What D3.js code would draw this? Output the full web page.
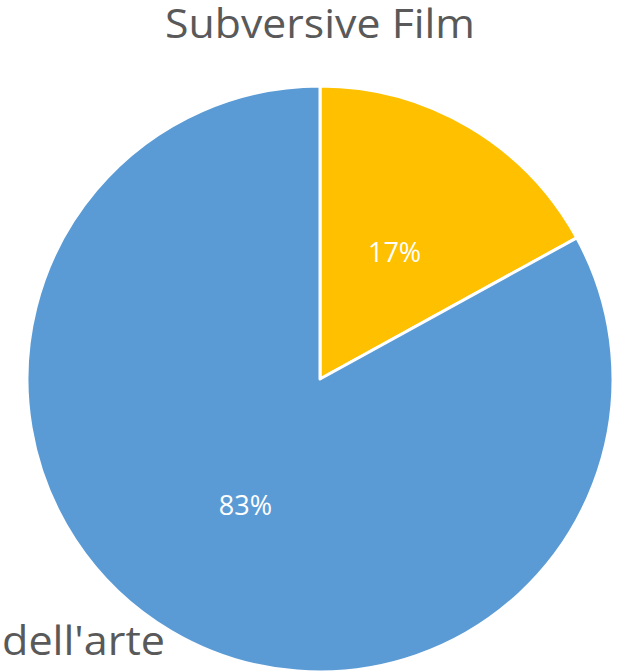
<!DOCTYPE html>
<html>
<head>
<meta charset="utf-8">
<script src="https://cdn.jsdelivr.net/npm/d3@7"></script>
<style>
  html, body { margin: 0; padding: 0; background: #fff; overflow: hidden; }
  svg { display: block; }
</style>
</head>
<body>
<svg id="chart" width="623" height="671"></svg>
<script>
// Series and slices
const title = "Subversive Film";
const categories = ["Other", "dell'arte"];
const values = [17, 83];
const colors = ["#FFC000", "#5B9BD5"];
const legendText = "dell'arte";

const W = 623, H = 671;
const cx = 320, cy = 379, r = 293;
const font = "'Open Sans', 'Noto Sans', sans-serif";

const svg = d3.select("#chart");

const total = d3.sum(values);
const pie = d3.pie().sort(null).value(d => d.value);
const arcs = pie(categories.map((c, i) => ({ name: c, value: values[i], color: colors[i] })));
const arc = d3.arc().innerRadius(0).outerRadius(r);
const labelArc = d3.arc().innerRadius(r * 0.5).outerRadius(r * 0.5);

const g = svg.append("g").attr("transform", `translate(${cx},${cy})`);

g.selectAll("path.slice")
  .data(arcs)
  .join("path")
  .attr("class", "slice")
  .attr("d", arc)
  .attr("fill", d => d.data.color)
  .attr("stroke", "#fff")
  .attr("stroke-width", 3)
  .attr("stroke-linejoin", "round");

g.selectAll("text.pct")
  .data(arcs)
  .join("text")
  .attr("class", "pct")
  .attr("transform", d => `translate(${labelArc.centroid(d)})`)
  .attr("text-anchor", "middle")
  .attr("dy", "0.35em")
  .attr("fill", "#fff")
  .style("font-family", font)
  .style("font-size", "27px")
  .text(d => Math.round(d.data.value / total * 100) + "%");

// Title
svg.append("text")
  .attr("x", cx)
  .attr("y", 38)
  .attr("text-anchor", "middle")
  .attr("fill", "#595959")
  .attr("textLength", 310)
  .attr("lengthAdjust", "spacingAndGlyphs")
  .style("font-family", font)
  .style("font-size", "41px")
  .text(title);

// Legend entry (partly cut by the bottom edge)
svg.append("text")
  .attr("x", 2)
  .attr("y", 655)
  .attr("fill", "#595959")
  .attr("textLength", 163)
  .attr("lengthAdjust", "spacingAndGlyphs")
  .style("font-family", font)
  .style("font-size", "41px")
  .text(legendText);
</script>
</body>
</html>
